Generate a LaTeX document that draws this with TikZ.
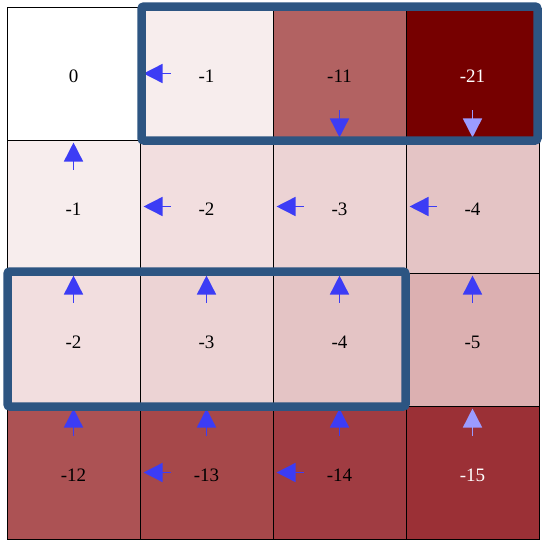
\documentclass[tikz,border=0pt]{standalone}
\usepackage{fontspec}
\setmainfont{Liberation Serif}
\usetikzlibrary{arrows.meta}
\definecolor{v0}{RGB}{255,255,255}
\definecolor{v1}{RGB}{247,237,237}
\definecolor{v2}{RGB}{242,222,223}
\definecolor{v3}{RGB}{236,211,212}
\definecolor{v4}{RGB}{228,196,197}
\definecolor{v5}{RGB}{220,176,177}
\definecolor{v11}{RGB}{178,98,98}
\definecolor{v21}{RGB}{118,0,0}
\definecolor{v12}{RGB}{172,82,84}
\definecolor{v13}{RGB}{166,72,74}
\definecolor{v14}{RGB}{160,60,66}
\definecolor{v15}{RGB}{155,48,54}
\definecolor{boxblue}{RGB}{45,85,130}
\definecolor{arrblue}{RGB}{60,60,245}
\definecolor{arrlight}{RGB}{155,155,255}
\tikzset{
  cell/.style={draw=black, line width=0.9pt, minimum size=133pt, inner sep=0pt, text height=17pt, text depth=0pt, font=\fontsize{19}{21}\selectfont, text=black},
  whitetext/.style={text=white},
  pol/.style={draw=arrblue, line width=1.6pt, -{Triangle[length=19pt,width=19pt]}},
  pollight/.style={pol, draw=arrlight},
  hilite/.style={draw=boxblue, line width=8.5pt, rounded corners=2.5pt}
}
\begin{document}
\begin{tikzpicture}[x=1pt,y=-1pt]
\useasboundingbox (0,0) rectangle (544,546);
% row 0
\node[cell, fill=v0]  (c00) at (73.5,73.5)  {0};
\node[cell, fill=v1]  (c01) at (206.5,73.5) {-1};
\node[cell, fill=v11] (c02) at (339.5,73.5) {-11};
\node[cell, fill=v21, whitetext] (c03) at (472.5,73.5) {-21};
% row 1
\node[cell, fill=v1] (c10) at (73.5,206.5)  {-1};
\node[cell, fill=v2] (c11) at (206.5,206.5) {-2};
\node[cell, fill=v3] (c12) at (339.5,206.5) {-3};
\node[cell, fill=v4] (c13) at (472.5,206.5) {-4};
% row 2
\node[cell, fill=v2] (c20) at (73.5,339.5)  {-2};
\node[cell, fill=v3] (c21) at (206.5,339.5) {-3};
\node[cell, fill=v4] (c22) at (339.5,339.5) {-4};
\node[cell, fill=v5] (c23) at (472.5,339.5) {-5};
% row 3
\node[cell, fill=v12] (c30) at (73.5,472.5)  {-12};
\node[cell, fill=v13] (c31) at (206.5,472.5) {-13};
\node[cell, fill=v14] (c32) at (339.5,472.5) {-14};
\node[cell, fill=v15, whitetext] (c33) at (472.5,472.5) {-15};
% left arrows
\foreach \c in {c01,c11,c12,c13,c31,c32}{
  \draw[pol] ([xshift=31pt]\c.west) -- ([xshift=4pt]\c.west);
}
% up arrows
\foreach \c in {c10,c20,c21,c22,c23,c30,c31,c32}{
  \draw[pol] ([yshift=-30pt]\c.north) -- ([yshift=-3pt]\c.north);
}
\draw[pollight] ([yshift=-30pt]c33.north) -- ([yshift=-3pt]c33.north);
% down arrows
\draw[pol] ([yshift=30pt]c02.south) -- ([yshift=3pt]c02.south);
\draw[pollight] ([yshift=30pt]c03.south) -- ([yshift=3pt]c03.south);
% highlight boxes
\draw[hilite] (141.5,6.5) rectangle (537.5,140.5);
\draw[hilite] (7.5,271.5) rectangle (405.5,406.5);
\end{tikzpicture}
\end{document}
